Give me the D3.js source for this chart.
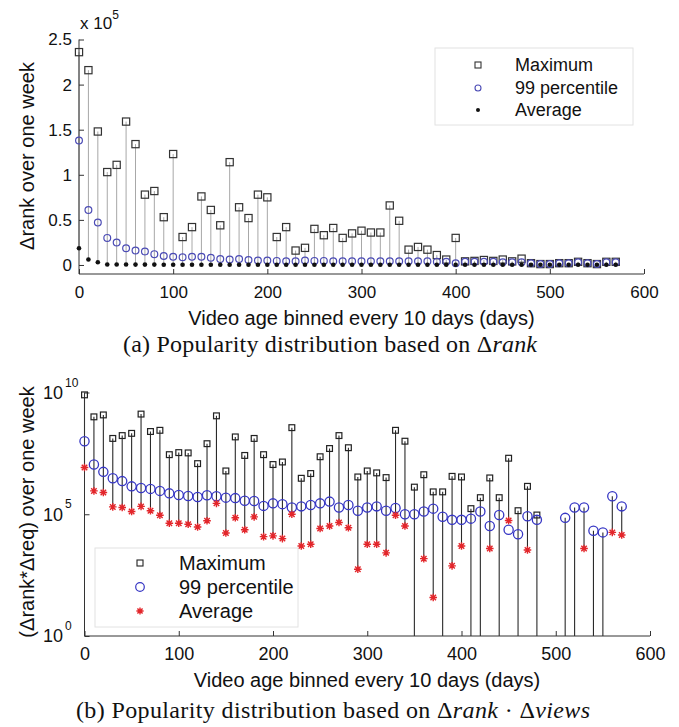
<!DOCTYPE html>
<html><head><meta charset="utf-8">
<script src="https://cdn.jsdelivr.net/npm/d3@7"></script>
<style>
html,body{margin:0;padding:0;background:#fff;}
svg{display:block;}
text{font-family:"Liberation Sans",Arial,sans-serif;fill:#111;}
.cap{font-family:"Liberation Serif","Times New Roman",serif;}
</style></head>
<body><svg id="c" width="679" height="727"></svg>
<script>
// ---------- DATA ----------
const ages = [0,10,20,30,40,50,60,70,80,90,100,110,120,130,140,150,160,170,180,190,200,210,220,230,240,250,260,270,280,290,300,310,320,330,340,350,360,370,380,390,400,410,420,430,440,450,460,470,480,490,500,510,520,530,540,550,560,570];

// (a) Δrank, in units of 1e5
const rankMax = [2.36,2.16,1.48,1.03,1.11,1.59,1.34,0.78,0.82,0.53,1.23,0.31,0.42,0.76,0.61,0.44,1.14,0.64,0.52,0.78,0.75,0.31,0.42,0.16,0.19,0.40,0.33,0.41,0.30,0.35,0.38,0.36,0.36,0.66,0.49,0.17,0.20,0.17,0.11,0.06,0.30,0.04,0.045,0.055,0.045,0.06,0.04,0.07,0.02,0.01,0.01,0.02,0.02,0.035,0.02,0.01,0.035,0.035];
const rankP99 = [1.38,0.61,0.47,0.30,0.25,0.185,0.16,0.15,0.12,0.10,0.09,0.085,0.09,0.09,0.08,0.065,0.06,0.065,0.055,0.05,0.05,0.045,0.04,0.04,0.05,0.045,0.045,0.04,0.04,0.04,0.04,0.04,0.04,0.04,0.04,0.04,0.04,0.04,0.035,0.035,0.02,0.035,0.035,0.035,0.035,0.03,0.03,0.03,0.02,0.01,0.01,0.02,0.02,0.03,0.02,0.01,0.03,0.03];
const rankAvg = [0.185,0.06,0.03,0.006,0.005,0.005,0.004,0.004,0.004,0.003,0.003,0.003,0.003,0.003,0.003,0.003,0.003,0.003,0.003,0.003,0.003,0.003,0.003,0.003,0.003,0.003,0.003,0.003,0.003,0.003,0.003,0.003,0.003,0.003,0.003,0.003,0.003,0.003,0.003,0.003,0.002,0.003,0.003,0.003,0.003,0.003,0.003,0.003,0.002,0.002,0.002,0.002,0.002,0.003,0.002,0.002,0.003,0.003];
const rankTicks = [0,0.5,1,1.5,2,2.5];
const rankTickLabels = ["0","0.5","1","1.5","2","2.5"];

// (b) Δrank·Δviews (null = not shown / hidden under the 99-percentile marker)
const prodMax = [8e9,1.0e9,1.2e9,1.3e8,1.7e8,2.1e8,1.3e9,2.5e8,2.8e8,2.8e7,3.4e7,3.3e7,1.2e7,7.9e7,1.1e9,6.0e6,1.5e8,2.6e7,1.3e8,2.8e7,1.1e7,1.4e7,3.6e8,3.0e6,4.7e6,2.3e7,5.0e7,1.7e8,5.4e7,3.4e6,6.0e6,5.0e6,3.2e6,2.8e8,1.0e8,1.3e6,4.2e6,8.3e5,8.3e5,3.6e6,3.4e6,1.7e5,4.8e5,3.1e6,4.8e5,2.0e7,1.4e5,1.4e6,9.3e4,null,null,null,null,null,null,null,null,null];
const prodP99 = [1.0e8,1.1e7,5.5e6,3.0e6,2.3e6,1.4e6,1.2e6,1.1e6,9.1e5,7.2e5,6.2e5,5.6e5,5.1e5,6.0e5,5.5e5,4.8e5,4.6e5,3.6e5,3.5e5,2.2e5,2.8e5,2.6e5,1.9e5,2.1e5,2.4e5,2.8e5,3.3e5,1.9e5,2.4e5,1.4e5,1.9e5,2.1e5,1.4e5,1.8e5,1.0e5,1.0e5,1.3e5,1.7e5,7.9e4,5.9e4,5.9e4,6.6e4,1.3e5,3.3e4,9.3e4,2.3e4,1.5e4,8.3e4,5.9e4,null,null,7.1e4,1.9e5,1.9e5,2.1e4,1.8e4,5.5e5,2.1e5];
const prodAvg = [8.3e6,9.1e5,7.8e5,2.0e5,1.9e5,1.3e5,2.1e5,1.4e5,9.1e4,4.3e4,4.3e4,3.9e4,3.0e4,5.4e4,2.8e5,1.7e4,7.2e4,2.3e4,7.8e4,1.2e4,1.3e4,1.0e4,1.0e5,5.0e3,5.9e3,2.6e4,3.3e4,4.6e4,2.8e4,550,5.9e3,5.9e3,2.6e3,9.1e4,3.3e4,null,1.5e3,38,null,760,5.0e3,null,null,3.9e3,null,5.5e4,null,3.4e3,null,null,null,null,null,3.9e3,null,null,1.8e4,1.4e4];
const prodTicks = [1,1e5,1e10];
const prodTickExp = ["0","5","10"];

const xTicks = [0,100,200,300,400,500,600];
const legendNames = ["Maximum","99 percentile","Average"];

// ---------- DRAW ----------
const svg = d3.select("#c");
svg.append("rect").attr("width",679).attr("height",727).attr("fill","#fff");
const AX = "#333";

function star(s){
  const d = s*0.72;
  return `M${-s},0H${s}M0,${-s}V${s}M${-d},${-d}L${d},${d}M${-d},${d}L${d},${-d}`;
}

// ===== Panel (a) =====
(function(){
  const x = d3.scaleLinear().domain([0,600]).range([79,644]);
  const y = d3.scaleLinear().domain([-0.1,2.5]).range([274,39.5]);
  const g = svg.append("g");
  const rows = ages.map((a,i)=>({a, mx:rankMax[i], p:rankP99[i], av:rankAvg[i]}));

  g.selectAll("line.stem").data(rows).join("line")
    .attr("x1",d=>x(d.a)).attr("x2",d=>x(d.a))
    .attr("y1",d=>y(d.mx)).attr("y2",d=>y(d.av))
    .attr("stroke","#a8a8a8").attr("stroke-width",1);

  const xa = d3.axisBottom(x).tickValues(xTicks).tickSize(-5).tickPadding(10).tickFormat(d3.format("d"));
  const gx = g.append("g").attr("transform","translate(0,274)").call(xa);
  const ya = d3.axisLeft(y).tickValues(rankTicks).tickSize(-5).tickPadding(7).tickFormat((d,i)=>rankTickLabels[i]);
  const gy = g.append("g").attr("transform","translate(79,0)").call(ya);
  [gx,gy].forEach(a=>{
    a.select(".domain").attr("stroke",AX).attr("d", a===gx ? "M79,0H644" : "M0,274V39.5");
    a.selectAll(".tick line").attr("stroke",AX);
    a.selectAll(".tick text").attr("fill","#111").style("font-family","Liberation Sans, Arial, sans-serif").style("font-size","17px");
  });
  gx.selectAll(".tick text").attr("dy","0.71em").attr("y",12);

  g.selectAll("rect.mx").data(rows).join("rect")
    .attr("x",d=>x(d.a)-3.6).attr("y",d=>y(d.mx)-3.6).attr("width",7.2).attr("height",7.2)
    .attr("fill","none").attr("stroke","#333").attr("stroke-width",1.2);
  g.selectAll("circle.p").data(rows).join("circle")
    .attr("cx",d=>x(d.a)).attr("cy",d=>y(d.p)).attr("r",3.4)
    .attr("fill","none").attr("stroke","#4b4bb5").attr("stroke-width",1.2);
  g.selectAll("circle.av").data(rows).join("circle")
    .attr("cx",d=>x(d.a)).attr("cy",d=>y(d.av)).attr("r",2.3)
    .attr("fill","#111");

  const m = g.append("text").attr("x",80).attr("y",29).style("font-size","17px");
  m.append("tspan").text("x 10");
  m.append("tspan").attr("dy",-10).style("font-size","12px").text("5");

  g.append("text").attr("x",361.5).attr("y",325).attr("text-anchor","middle").style("font-size","20px")
    .text("Video age binned every 10 days (days)");
  g.append("text").attr("transform","translate(34,156) rotate(-90)").attr("text-anchor","middle").style("font-size","20px")
    .text("Δrank over one week");

  const L = g.append("g");
  L.append("rect").attr("x",435).attr("y",48).attr("width",198).attr("height",77)
    .attr("fill","#fff").attr("stroke","#e2e2e2").attr("stroke-width",1);
  const ly = [65,88,110];
  L.append("rect").attr("x",478-3).attr("y",ly[0]-3).attr("width",6).attr("height",6).attr("fill","none").attr("stroke","#333").attr("stroke-width",1.1);
  L.append("circle").attr("cx",478).attr("cy",ly[1]).attr("r",3).attr("fill","none").attr("stroke","#4b4bb5").attr("stroke-width",1.1);
  L.append("circle").attr("cx",478).attr("cy",ly[2]).attr("r",2).attr("fill","#111");
  legendNames.forEach((n,i)=>L.append("text").attr("x",515).attr("y",ly[i]).attr("dy","0.35em").style("font-size","18px").text(n));

  const c = g.append("text").attr("class","cap").attr("x",123).attr("y",352)
    .attr("textLength",414).attr("lengthAdjust","spacing").style("font-size","24px");
  c.append("tspan").text("(a) Popularity distribution based on Δ");
  c.append("tspan").style("font-style","italic").text("rank");
})();

// ===== Panel (b) =====
(function(){
  const x = d3.scaleLinear().domain([0,600]).range([84.5,650]);
  const y = d3.scaleLog().domain([1,1e10]).range([636,392.5]);
  const g = svg.append("g");
  const rows = ages.map((a,i)=>({a, mx:prodMax[i], p:prodP99[i], av:prodAvg[i]}));
  const top = d=> d.mx!=null ? d.mx : d.p;

  g.selectAll("line.stem").data(rows.filter(d=>top(d)!=null)).join("line")
    .attr("x1",d=>x(d.a)).attr("x2",d=>x(d.a))
    .attr("y1",d=>y(top(d))).attr("y2",d=> d.av!=null ? y(d.av) : y(1))
    .attr("stroke","#2a2a2a").attr("stroke-width",1.1);

  const xa = d3.axisBottom(x).tickValues(xTicks).tickSize(-5).tickPadding(10).tickFormat(d3.format("d"));
  const gx = g.append("g").attr("transform","translate(0,636)").call(xa);
  const ya = d3.axisLeft(y).tickValues(prodTicks).tickSize(-5).tickFormat("");
  const gy = g.append("g").attr("transform","translate(84.5,0)").call(ya);
  gx.select(".domain").attr("stroke",AX).attr("d","M84.5,0H650");
  gy.select(".domain").attr("stroke",AX).attr("d","M0,636V392.5");
  [gx,gy].forEach(a=>a.selectAll(".tick line").attr("stroke",AX));
  gx.selectAll(".tick text").attr("fill","#111").attr("y",11).attr("dy","0.71em")
    .style("font-family","Liberation Sans, Arial, sans-serif").style("font-size","18px");

  prodTicks.forEach((t,i)=>{
    const yy = y(t);
    g.append("text").attr("x",63).attr("y",yy).attr("dy","0.35em").attr("text-anchor","end").style("font-size","18px").text("10");
    g.append("text").attr("x",65).attr("y",yy-10).attr("dy","0.35em").style("font-size","12px").text(prodTickExp[i]);
  });

  g.selectAll("rect.mx").data(rows.filter(d=>d.mx!=null)).join("rect")
    .attr("x",d=>x(d.a)-2.9).attr("y",d=>y(d.mx)-2.9).attr("width",5.8).attr("height",5.8)
    .attr("fill","none").attr("stroke","#222").attr("stroke-width",1.2);
  g.selectAll("circle.p").data(rows.filter(d=>d.p!=null)).join("circle")
    .attr("cx",d=>x(d.a)).attr("cy",d=>y(d.p)).attr("r",4.6)
    .attr("fill","none").attr("stroke","#3636c4").attr("stroke-width",1.3);
  g.selectAll("path.av").data(rows.filter(d=>d.av!=null)).join("path")
    .attr("transform",d=>`translate(${x(d.a)},${y(d.av)})`).attr("d",star(3.8))
    .attr("fill","none").attr("stroke","#e3262b").attr("stroke-width",1.4);

  g.append("text").attr("x",367).attr("y",687).attr("text-anchor","middle").style("font-size","20px")
    .text("Video age binned every 10 days (days)");
  g.append("text").attr("transform","translate(34,512) rotate(-90)").attr("text-anchor","middle").style("font-size","20px")
    .text("(Δrank*Δreq) over one week");

  const L = g.append("g");
  L.append("rect").attr("x",95).attr("y",548).attr("width",203).attr("height",79)
    .attr("fill","#fff").attr("stroke","#e2e2e2").attr("stroke-width",1);
  const ly = [563,587,611];
  L.append("rect").attr("x",140-3).attr("y",ly[0]-3).attr("width",6).attr("height",6).attr("fill","none").attr("stroke","#222").attr("stroke-width",1.1);
  L.append("circle").attr("cx",140).attr("cy",ly[1]).attr("r",4.3).attr("fill","none").attr("stroke","#3636c4").attr("stroke-width",1.2);
  L.append("path").attr("transform",`translate(140,${ly[2]})`).attr("d",star(3.6)).attr("fill","none").attr("stroke","#e3262b").attr("stroke-width",1.4);
  legendNames.forEach((n,i)=>L.append("text").attr("x",179).attr("y",ly[i]).attr("dy","0.35em").style("font-size","20px").text(n));

  const c = g.append("text").attr("class","cap").attr("x",76).attr("y",718)
    .attr("textLength",514).attr("lengthAdjust","spacing").style("font-size","24px");
  c.append("tspan").text("(b) Popularity distribution based on Δ");
  c.append("tspan").style("font-style","italic").text("rank");
  c.append("tspan").text(" · Δ");
  c.append("tspan").style("font-style","italic").text("views");
})();
</script></body></html>
